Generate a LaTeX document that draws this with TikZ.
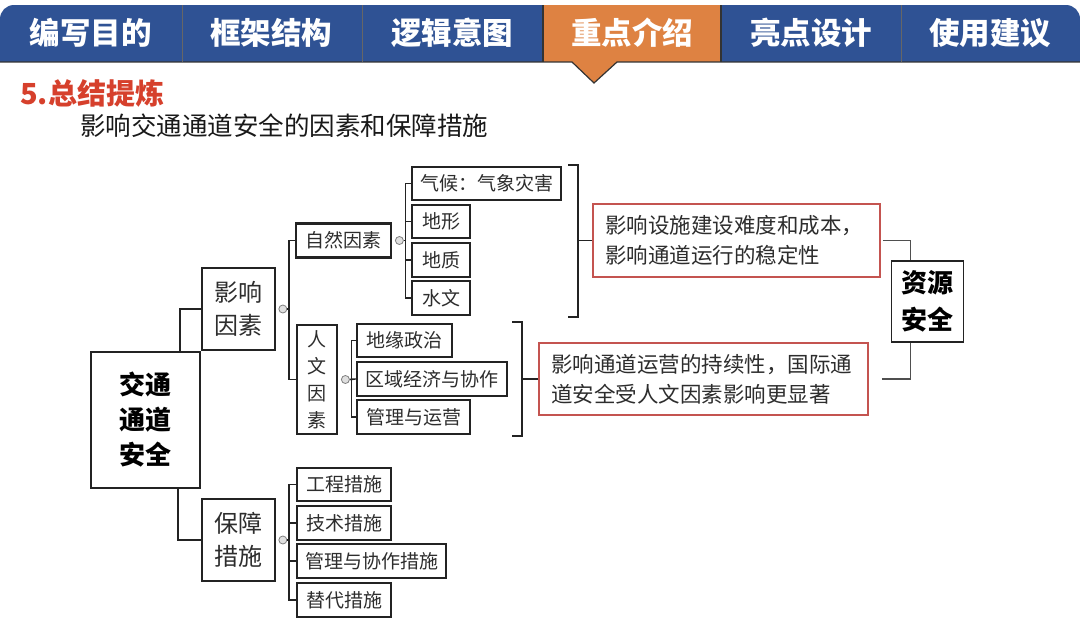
\documentclass[tikz,border=0pt]{standalone}
\usepackage{fontspec}
\setmainfont{Noto Sans CJK SC}
\definecolor{tabblue}{RGB}{47,82,148}
\definecolor{taborange}{RGB}{222,130,66}
\definecolor{titlered}{RGB}{214,64,44}
\definecolor{redbox}{RGB}{196,84,80}
\definecolor{textgray}{RGB}{45,45,45}
\definecolor{linegray}{RGB}{35,35,35}
\begin{document}
\begin{tikzpicture}[x=1pt,y=-1pt,
  tabtxt/.style={text=white, font=\bfseries\fontsize{30.5}{32}\selectfont, inner sep=0pt},
  sbox/.style={draw=linegray, line width=2.8pt, inner sep=0pt, text=textgray, font=\fontsize{19}{22}\selectfont},
  mbox/.style={draw=linegray, line width=1.7pt, inner sep=0pt, align=center, text=textgray, font=\fontsize{24}{33}\selectfont},
  rbox/.style={draw=redbox, line width=1.8pt, inner sep=0pt, align=left, text=textgray, font=\fontsize{21.5}{30}\selectfont},
  conn/.style={draw=linegray, line width=1.6pt},
  rconn/.style={draw=linegray!80, line width=1.2pt},
  brk/.style={draw=linegray, line width=1.8pt},
  dot/.style={circle, draw=gray, fill=gray!25, line width=0.8pt, minimum size=8pt, inner sep=0pt}
]
\useasboundingbox (0,0) rectangle (1080,621);
\fill[white] (0,0) rectangle (1080,621);

% ---- top tab bar ----
\begin{scope}
\clip[rounded corners=14pt] (0,5) rectangle (1080,90);
\fill[tabblue] (0,5) rectangle (1080,62);
\end{scope}
\fill[taborange] (543,5) rectangle (721,62);
\fill[taborange] (572,62) -- (594,83) -- (617,62) -- cycle;
\draw[black!80, line width=1.2pt] (0,62) -- (572,62) -- (594,83) -- (617,62) -- (1080,62);
\draw[black!80, line width=1.2pt] (543,5) -- (543,62) (721,5) -- (721,62);
\draw[black!60, line width=1pt] (182,5) -- (182,62) (362,5) -- (362,62) (901,5) -- (901,62);
\node[tabtxt] (t1) at (91,33) {编写目的};
\node[tabtxt] (t2) at (271,33) {框架结构};
\node[tabtxt] (t3) at (452,33) {逻辑意图};
\node[tabtxt] (t4) at (632,33) {重点介绍};
\node[tabtxt] (t5) at (811,33) {亮点设计};
\node[tabtxt] (t6) at (990,33) {使用建议};

% ---- titles ----
\node[anchor=west, inner sep=0pt, text=titlered, font=\bfseries\fontsize{29}{30}\selectfont] (title) at (20,93) {5.总结提炼};
\node[anchor=west, inner sep=0pt, text=black!90, font=\fontsize{25.5}{28}\selectfont] (sub) at (80,126) {影响交通通道安全的因素和保障措施};

% ---- main nodes ----
\node[mbox, minimum width=109pt, minimum height=136pt, font=\bfseries\fontsize{26}{35}\selectfont, text=black] (root) at (145.5,420) {交通\\通道\\安全};
\node[mbox, minimum width=73pt, minimum height=82pt] (ying) at (238.5,309) {影响\\因素};
\node[mbox, minimum width=73pt, minimum height=82pt] (bz) at (238.5,540) {保障\\措施};

\node[sbox, minimum width=95pt, minimum height=34pt] (zr) at (343.5,240.5) {自然因素};
\node[sbox, minimum width=40pt, minimum height=109pt, align=center, font=\fontsize{19}{27}\selectfont] (rw) at (317,379.5) {人\\文\\因\\素};

\node[sbox, minimum width=149pt, minimum height=33pt] (qh) at (486.5,183.5) {气候：气象灾害};
\node[sbox, minimum width=58pt, minimum height=33pt] (dx) at (441,221.5) {地形};
\node[sbox, minimum width=58pt, minimum height=34pt] (dz) at (441,260) {地质};
\node[sbox, minimum width=58pt, minimum height=34pt] (sw) at (441,298) {水文};

\node[sbox, minimum width=95pt, minimum height=33pt] (dy) at (404.5,340.5) {地缘政治};
\node[sbox, minimum width=150pt, minimum height=34pt] (qy) at (432,379) {区域经济与协作};
\node[sbox, minimum width=113pt, minimum height=34pt] (gl) at (413.5,417) {管理与运营};

\node[sbox, minimum width=94pt, minimum height=33pt] (gc) at (344,484.5) {工程措施};
\node[sbox, minimum width=94pt, minimum height=34pt] (js) at (344,523) {技术措施};
\node[sbox, minimum width=149pt, minimum height=34pt] (gx) at (371.5,561) {管理与协作措施};
\node[sbox, minimum width=94pt, minimum height=34pt] (td) at (344,600) {替代措施};

\node[rbox, minimum width=287pt, minimum height=73pt, text width=263pt] (red1) at (736.5,240.5) {影响设施建设难度和成本，\\影响通道运行的稳定性};
\node[rbox, minimum width=329pt, minimum height=72pt, text width=305pt] (red2) at (703.5,379) {影响通道运营的持续性，国际通\\道安全受人文因素影响更显著};

\node[mbox, line width=1.3pt, minimum width=72pt, minimum height=81pt, font=\bfseries\fontsize{26}{37}\selectfont, text=black] (res) at (927.5,301.5) {资源\\安全};

% ---- connectors ----
\draw[conn] (ying.west) -| ([xshift=34.5pt]root.north);
\draw[conn] (bz.west) -| ([xshift=32.5pt]root.south);

\node[dot] (d1) at ([xshift=7pt]ying.east) {};
\coordinate (j1) at ([xshift=13pt]ying.east);
\draw[conn] (zr.west) -| (j1) |- (rw.west);
\draw[conn] (d1.east) -- (j1);

\node[dot] (d2) at ([xshift=7pt]zr.east) {};
\coordinate (j2) at ([xshift=13pt]zr.east);
\draw[conn] (qh.west) -| (j2) |- (sw.west);
\draw[conn] (dx.west) -| (j2);
\draw[conn] (dz.west) -| (j2);
\draw[conn] (d2.east) -- (j2);

\node[dot] (d3) at ([xshift=7pt]rw.east) {};
\coordinate (j3) at ([xshift=13pt]rw.east);
\draw[conn] (dy.west) -| (j3) |- (gl.west);
\draw[conn] (qy.west) -- (d3.east);

\node[dot] (d4) at ([xshift=7pt]bz.east) {};
\coordinate (j4) at ([xshift=13pt]bz.east);
\draw[conn] (gc.west) -| (j4) |- (td.west);
\draw[conn] (js.west) -| (j4);
\draw[conn] (gx.west) -| (j4);
\draw[conn] (d4.east) -- (j4);

% ---- brackets ----
\coordinate (b1t) at (578,165);
\coordinate (b1b) at (578,317);
\draw[brk] ([xshift=-10pt]b1t) -- (b1t) -- (b1b) -- ([xshift=-10pt]b1b);
\draw[brk] (red1.west) -- ++(-15,0);
\coordinate (b2t) at (522,322);
\coordinate (b2b) at (522,436);
\draw[brk] ([xshift=-10pt]b2t) -- (b2t) -- (b2b) -- ([xshift=-10pt]b2b);
\draw[brk] (red2.west) -- ++(-17,0);

\draw[rconn] ([xshift=2pt]red1.east) -| ([xshift=-17pt]res.north);
\draw[rconn] ([xshift=13pt]red2.east) -| ([xshift=-17pt]res.south);
\end{tikzpicture}
\end{document}
